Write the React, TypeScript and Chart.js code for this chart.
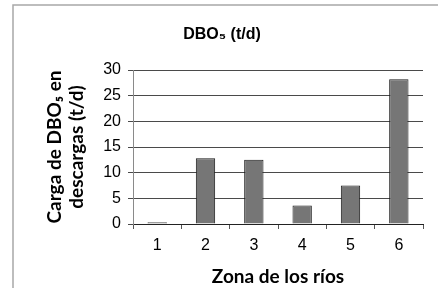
import React, { useEffect, useRef } from "react";
import { Chart, registerables } from "chart.js";

Chart.register(...registerables);

const categories = ["1", "2", "3", "4", "5", "6"];
const cargaDBO = [0.35, 12.8, 12.5, 3.6, 7.5, 28.2];
const yTicks = [0, 5, 10, 15, 20, 25, 30];

const chartTitle = "DBO\u2085 (t/d)";
const yTitle = ["Carga de DBO\u2085 en", "descargas (t/d)"];
const xTitle = "Zona de los r\u00edos";

const framePlugin = {
  id: "frame",
  beforeDraw(chart: any) {
    const ctx = chart.ctx;
    ctx.save();
    ctx.fillStyle = "#ffffff";
    ctx.fillRect(0, 0, chart.width, chart.height);
    ctx.strokeStyle = "#a8a8a8";
    ctx.lineWidth = 1.5;
    ctx.beginPath();
    ctx.moveTo(13, 300);
    ctx.lineTo(13, 5);
    ctx.lineTo(440, 5);
    ctx.stroke();
    ctx.restore();
  },
};

export default function App() {
  const ref = useRef<HTMLCanvasElement>(null);
  useEffect(() => {
    if (!ref.current) return;
    const chart = new Chart(ref.current, {
      type: "bar",
      data: {
        labels: categories,
        datasets: [
          {
            data: cargaDBO,
            backgroundColor: "#767676",
            borderColor: "#1a1a1a",
            borderWidth: 1,
            barPercentage: 0.4,
            categoryPercentage: 1,
          },
        ],
      },
      options: {
        responsive: false,
        animation: false,
        layout: { padding: { left: 21, right: 15, top: 0, bottom: 0 } },
        plugins: {
          legend: { display: false },
          tooltip: { enabled: false },
          title: {
            display: true,
            text: chartTitle,
            color: "#000000",
            font: { family: "'Liberation Sans', Arial, sans-serif", size: 16, weight: "bold", lineHeight: 1.2 },
            padding: { top: 25, bottom: 25.8 },
          },
        },
        scales: {
          x: {
            afterFit(scale: any) {
              scale.height = 64;
            },
            grid: {
              display: true,
              drawOnChartArea: false,
              drawTicks: true,
              tickLength: 5,
              color: "#555555",
              offset: true,
            },
            border: { display: true, color: "#222222", width: 1 },
            ticks: {
              color: "#000000",
              padding: 8,
              font: { family: "'Liberation Sans', Arial, sans-serif", size: 16, lineHeight: 1.1 },
            },
            title: {
              display: true,
              text: xTitle,
              color: "#000000",
              font: { family: "Lato, sans-serif", size: 19, weight: "bold", lineHeight: 1.2 },
              padding: { top: 0, bottom: 0 },
            },
          },
          y: {
            min: 0,
            max: 30,
            afterFit(scale: any) {
              scale.width = 112;
            },
            afterBuildTicks(scale: any) {
              scale.ticks = yTicks.map((v) => ({ value: v }));
            },
            grid: {
              color: "#4a4a4a",
              lineWidth: 1,
              drawTicks: true,
              tickLength: 5,
            },
            border: { display: true, color: "#8a8a8a", width: 1 },
            ticks: {
              color: "#000000",
              padding: 7,
              font: { family: "'Liberation Sans', Arial, sans-serif", size: 16, lineHeight: 1.2 },
            },
            title: {
              display: true,
              text: yTitle,
              color: "#000000",
              font: { family: "Lato, sans-serif", size: 19, weight: "bold", lineHeight: 1.15 },
              padding: { top: 23, bottom: 0 },
            },
          },
        },
      },
      plugins: [framePlugin],
    });
    return () => chart.destroy();
  }, []);
  return (
    <div style={{ position: "absolute", left: 0, top: 0, width: 438, height: 288, background: "#fff" }}>
      <canvas ref={ref} width={438} height={288} style={{ display: "block" }} />
    </div>
  );
}
